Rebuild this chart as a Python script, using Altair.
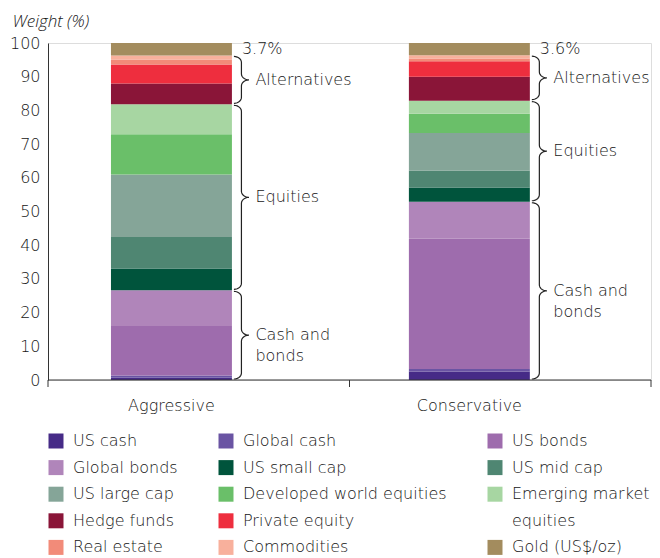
import altair as alt
import pandas as pd
import numpy as np

# ---------------- data ----------------
portfolios = ["Aggressive", "Conservative"]
assets = [
    "US cash", "Global cash", "US bonds", "Global bonds",
    "US small cap", "US mid cap", "US large cap",
    "Developed world equities", "Emerging market equities",
    "Hedge funds", "Private equity", "Real estate", "Commodities",
    "Gold (US$/oz)",
]
aggressive = [0.7, 0.6, 14.7, 10.6, 6.5, 9.3, 18.6, 11.9, 8.9, 6.2, 5.6, 1.5, 1.2, 3.7]
conservative = [2.5, 0.8, 38.6, 11.0, 4.2, 5.1, 11.1, 5.7, 3.9, 7.1, 4.6, 0.8, 1.0, 3.6]
colors = [
    "#462b87", "#6a54a3", "#9e6cad", "#b085ba",
    "#00543c", "#4f8672", "#85a598",
    "#6abf69", "#a7d6a2",
    "#8a1538", "#ee2e3e", "#f28b79", "#f8b09c",
    "#a38c5e",
]
group_names = ["Cash and\nbonds", "Equities", "Alternatives"]
group_sizes = [4, 5, 4]
y_ticks = list(range(0, 101, 10))

# ---------------- layout / style ----------------
W, H = 603, 337
PX = H / 100.0
P_IN, P_OUT, ALIGN = 0.594, 0.309, 0.342
FONT = "DejaVu Sans"
FW = 300
TXT = "#161616"
FS = 16

n = len(portfolios)
step = W / (n - P_IN + 2 * P_OUT)
start = (W - step * (n - P_IN)) * ALIGN
bandw = step * (1 - P_IN)

rows = []
for p, vals in zip(portfolios, [aggressive, conservative]):
    for i, (a, v) in enumerate(zip(assets, vals)):
        rows.append({"portfolio": p, "asset": a, "weight": v, "idx": i})
bars_df = pd.DataFrame(rows)

# braces + labels derived from cumulative sums
RX, RY = 7.5, 6.0
brace_rows, label_rows, pct_rows = [], [], []
for pi_, (p, vals) in enumerate(zip(portfolios, [aggressive, conservative])):
    cum = np.concatenate([[0], np.cumsum(vals)])
    right = start + pi_ * step + bandw
    x0 = right + 2
    k = 0
    for g, size in zip(group_names, group_sizes):
        ylo, yhi = cum[k], cum[k + size]
        k += size
        gap = 1.0 / PX
        ylo_, yhi_ = ylo + gap, yhi - gap
        ry = RY / PX
        ym = (ylo_ + yhi_) / 2
        pts = []
        for t in np.radians(np.linspace(90, 0, 8)):
            pts.append((x0 + RX * np.cos(t), yhi_ - ry + ry * np.sin(t)))
        for t in np.radians(np.linspace(180, 270, 8)):
            pts.append((x0 + 2 * RX + RX * np.cos(t), ym + ry + ry * np.sin(t)))
        for t in np.radians(np.linspace(90, 180, 8)):
            pts.append((x0 + 2 * RX + RX * np.cos(t), ym - ry + ry * np.sin(t)))
        for t in np.radians(np.linspace(0, -90, 8)):
            pts.append((x0 + RX * np.cos(t), ylo_ + ry + ry * np.sin(t)))
        for j, (xx, yy) in enumerate(pts):
            brace_rows.append({"key": f"{p}-{g}", "o": j, "bx": xx, "by": yy})
        label_rows.append({"lx": x0 + 2 * RX + 6.5, "ly": ym, "text": g})
    gold_mid = (cum[-2] + cum[-1]) / 2
    pct_rows.append({"lx": right + 10, "ly": gold_mid, "text": f"{vals[-1]}%"})

brace_df = pd.DataFrame(brace_rows)
label_df = pd.DataFrame(label_rows)
pct_df = pd.DataFrame(pct_rows)

# legend domain with a blank slot carrying the wrapped second line
leg_domain = assets[:11] + ["equities"] + assets[11:]
leg_range = colors[:11] + ["#ffffff"] + colors[11:]

yscale = alt.Scale(domain=[0, 100], nice=False, zero=True)
qx = alt.Scale(domain=[0, W], nice=False, zero=False)
y_axis = alt.Axis(title="Weight (%)", values=y_ticks, grid=False,
                  ticks=False, labelPadding=8, domainColor="#333333", domainWidth=1,
                  labelFontSize=FS, labelColor=TXT, labelFont=FONT, labelFontWeight=FW,
                  titleAngle=0, titleX=-36, titleY=-22, titleAlign="left",
                  titleBaseline="middle", titleFontStyle="italic",
                  titleFontWeight=300, titleFont="Open Sans",
                  titleFontSize=17, titleColor=TXT)

bars = alt.Chart(bars_df).mark_bar(stroke=None).encode(
    x=alt.X("portfolio:N", sort=portfolios,
            scale=alt.Scale(paddingInner=P_IN, paddingOuter=P_OUT, align=ALIGN, round=False),
            axis=alt.Axis(title=None, labelAngle=0, ticks=False, domain=False,
                          labelPadding=17, labelFontSize=FS, labelColor=TXT,
                          labelFont=FONT, labelFontWeight=FW)),
    y=alt.Y("weight:Q", stack="zero", scale=yscale, axis=y_axis),
    color=alt.Color("asset:N", scale=alt.Scale(domain=leg_domain, range=leg_range),
                    legend=alt.Legend(
                        title=None, orient="none", legendX=0, legendY=390,
                        columns=3, direction="horizontal", symbolType="square",
                        symbolSize=225, symbolStrokeWidth=0, labelFontSize=FS,
                        labelFont=FONT, labelFontWeight=FW, labelColor=TXT,
                        labelOffset=9, rowPadding=10.6, columnPadding=40,
                        labelLimit=400, padding=0,
                        labelExpr="datum.label == 'Emerging market equities' ? 'Emerging market' : datum.label")),
    order=alt.Order("idx:Q", sort="ascending"),
)

braces = alt.Chart(brace_df).mark_line(color="#222222", strokeWidth=1.2).encode(
    x=alt.X("bx:Q", scale=qx, axis=None),
    y=alt.Y("by:Q", scale=yscale, axis=y_axis),
    detail="key:N",
    order="o:Q",
)

glabels = alt.Chart(label_df).mark_text(
    align="left", baseline="middle", fontSize=FS, font=FONT, fontWeight=FW,
    color=TXT, lineBreak="\n", lineHeight=21,
).encode(
    x=alt.X("lx:Q", scale=qx, axis=None),
    y=alt.Y("ly:Q", scale=yscale, axis=y_axis),
    text="text:N",
)

plabels = alt.Chart(pct_df).mark_text(
    align="left", baseline="middle", fontSize=FS, font=FONT, fontWeight=FW, color=TXT,
).encode(
    x=alt.X("lx:Q", scale=qx, axis=None),
    y=alt.Y("ly:Q", scale=yscale, axis=y_axis),
    text="text:N",
)

base_rule = alt.Chart(pd.DataFrame({"v": [0]})).mark_rule(color="#333333", strokeWidth=1).encode(
    x=alt.value(0), x2=alt.value(W), y=alt.value(H),
)
tick_df = pd.DataFrame({"t": [0, 1, 2]})
ticks = alt.Chart(tick_df).mark_rule(color="#333333", strokeWidth=1).encode(
    x=alt.X("t:Q", scale=alt.Scale(domain=[0, 2], nice=False), axis=None),
    y=alt.value(H), y2=alt.value(H + 7),
)

chart = alt.layer(bars, braces, glabels, plabels, base_rule, ticks).resolve_scale(
    x="independent"
).properties(
    width=W, height=H,
    autosize=alt.AutoSizeParams(type="none"),
    padding={"left": 40, "top": 35, "right": 1, "bottom": 178},
).configure_view(stroke=None).configure(background="white")

chart.save("out.html", embed_options={"renderer": "svg", "actions": False})
